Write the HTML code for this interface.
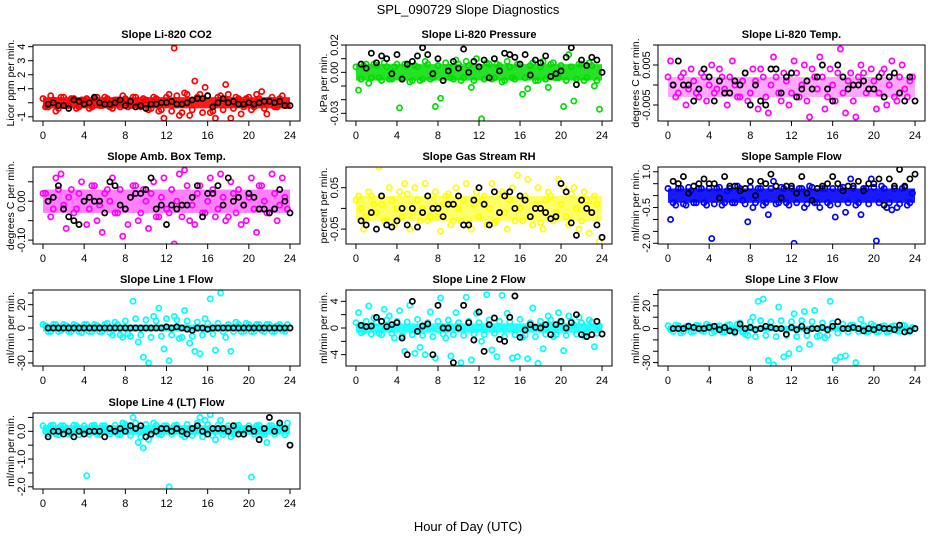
<!DOCTYPE html>
<html><head><meta charset="utf-8"><style>
body{margin:0;background:#fff;}
svg{display:block;font-family:"Liberation Sans",sans-serif;}
</style></head><body>
<svg id="chart" width="936" height="540" viewBox="0 0 936 540">
<text x="468" y="14" text-anchor="middle" font-size="13">SPL_090729  Slope Diagnostics</text>
<text x="468" y="531" text-anchor="middle" font-size="13">Hour of Day (UTC)</text>
</svg>
<script>
const titles=["Slope Li-820 CO2","Slope Li-820 Pressure","Slope Li-820 Temp.","Slope Amb. Box Temp.","Slope Gas Stream RH","Slope Sample Flow","Slope Line 1 Flow","Slope Line 2 Flow","Slope Line 3 Flow","Slope Line 4 (LT) Flow"];
const yTitles=["Licor ppm per min.","kPa per min.","degrees C per min.","degrees C per min.","percent per min.","ml/min per min.","ml/min per min.","ml/min per min.","ml/min per min.","ml/min per min."];
const colors=["#ff0000","#00dd00","#ff00ff","#ff00ff","#ffff00","#0000ff","#00ffff","#00ffff","#00ffff","#00ffff"];
const yRanges=[[-1.3,4.12],[-0.0356,0.02],[-0.009,0.01],[-0.11,0.088],[-0.086,0.1],[-2.03,1.2],[-32.6,32.6],[-5.7,5.7],[-33,34],[-2.08,0.66]];
const yTicks=[[-1,0,1,2,3,4],[-0.03,-0.02,-0.01,0,0.01,0.02],[-0.005,0,0.005,0.01],[-0.1,-0.05,0,0.05],[-0.05,0,0.05],[-2,-1.5,-1,-0.5,0,0.5,1],[-30,-20,-10,0,10,20,30],[-4,-2,0,2,4],[-30,-20,-10,0,10,20,30],[-2,-1.5,-1,-0.5,0,0.5]];
const yTickLabels=[["-1","","1","2","3","4"],["-0.03","","","0.00","","0.02"],["-0.005","","0.005",""],["-0.10","","0.00",""],["-0.05","","0.05"],["-2.0","","","-0.5","","","1.0"],["-30","","","0","","20",""],["-4","","0","","4"],["-30","","","0","","20",""],["-2.0","","-1.0","","0.0",""]];
const xTicks=[0,4,8,12,16,20,24];
const coreLo=[-0.4,-0.006,-0.003,-0.03,-0.03,-0.3,-3,-0.7,-2.5,-0.12];
const coreHi=[0.4,0.006,0.002,0.03,0.03,0.3,3,0.7,2.5,0.22];
const coreOpacity=[0.9,0.85,0.35,0.5,0.6,0.9,0.9,0.85,0.9,0.9];
const colHours=[];for(let i=0;i<48;i++)colHours.push(0.25+0.5*i);
const blkHours=[];for(let i=0;i<48;i++)blkHours.push(0.5+0.5*i);
const col2Hours=[];for(let i=0;i<48;i++)col2Hours.push(0.5*i);
const colored=[
[-0.3,0.5,-0.6,0.4,-0.2,0.3,-0.4,0.2,0.3,-0.3,0.4,-0.2,0.3,-0.4,0.2,0.5,-0.3,0.4,-0.2,0.3,-0.5,0.4,-0.6,-1.1,0.6,3.9,-0.9,0.7,-0.9,1.55,0.6,1.1,-0.7,-1.1,0.5,1.3,-1.1,0.4,-0.8,0.3,-0.5,0.6,0.8,-0.8,0.4,-0.3,0.5,-0.2],
[-0.013,0.005,-0.008,0.006,-0.004,0.007,-0.005,0.004,-0.026,0.006,-0.007,0.005,-0.006,0.008,-0.005,-0.025,-0.019,0.007,-0.004,0.009,-0.006,0.008,-0.011,0.01,-0.034,0.007,-0.005,0.006,-0.007,0.008,-0.004,0.006,-0.016,-0.012,0.007,-0.006,0.008,-0.011,0.007,-0.004,-0.025,0.013,-0.021,0.006,-0.006,0.007,-0.01,-0.027],
[0.006,-0.003,0.002,-0.005,0.004,-0.002,0.003,-0.004,0.005,-0.001,0.002,-0.005,0.006,-0.003,0.001,-0.004,0.004,-0.006,0.002,-0.007,0.007,-0.002,0.003,-0.005,0.006,-0.003,0.005,-0.008,0.002,0.007,-0.006,0.004,-0.004,0.009,-0.007,0.003,-0.008,0.005,-0.002,0.004,-0.006,0.003,-0.005,0.006,-0.004,0.005,-0.003,0.002],
[0.02,-0.04,0.06,0.07,-0.07,0.03,-0.02,0.05,-0.06,0.04,-0.05,-0.08,0.03,0.06,-0.03,-0.09,-0.06,0.04,-0.05,0.03,-0.07,0.05,-0.04,0.06,-0.03,-0.11,0.07,0.08,-0.05,-0.06,0.04,-0.03,0.06,-0.04,0.07,-0.05,0.05,-0.03,-0.06,-0.05,0.06,-0.08,0.04,-0.03,0.07,-0.05,0.06,-0.02],
[0.03,-0.05,0.04,0.01,0.1,-0.03,0.05,-0.04,0.04,0.06,-0.05,0.05,-0.03,0.06,-0.02,0.04,-0.055,0.03,-0.04,0.05,-0.03,0.06,-0.05,0.04,0.02,-0.04,0.06,-0.03,0.04,-0.05,0.05,0.08,-0.03,0.07,-0.04,0.05,-0.05,0.04,-0.03,0.07,0.05,-0.04,0.05,-0.05,0.04,-0.06,0.03,-0.08],
[-1.0,-0.4,0.3,-0.4,0.2,-0.3,0.3,-0.4,-1.8,0.3,-0.4,0.2,-0.3,0.4,-0.2,-1.1,-0.5,0.3,-0.4,-0.8,0.6,-0.3,0.3,-0.4,-2.0,0.3,-0.5,0.4,-0.3,-0.5,0.3,-0.4,-0.9,0.3,-0.7,0.7,-0.4,-0.8,0.3,0.7,-1.9,0.4,-0.5,-0.6,-0.5,0.3,-0.4,0.1],
[2,-3,3,-2,2,-3,2,-4,3,-3,2,-3,4,-6,3,-8,-5,23,-12,-25,-30,10,17,-18,-28,10,-9,15,-13,-20,-22,8,25,-19,30,-8,-20,5,-3,4,-3,3,-2,3,-3,2,-2,3],
[2.3,-0.5,3.3,1.5,-0.8,2.8,1.8,-1.5,2.6,-3.5,3.4,-3.8,-2.9,-4.0,2.4,-4.5,4.5,-1.5,-4.2,2.3,-5.2,4.6,-4.8,2.2,-2.0,5.0,-3.3,-4.3,4.9,2.2,-4.5,-4.3,-1.4,-4.6,3.0,-5.3,-3.1,1.8,-1.3,2.3,-3.4,1.8,0.5,1.6,-1.2,1.2,-2.8,0.3],
[-1,3,-4,2,-3,3,-2,4,-4,2,-3,3,-2,4,-3,-6,10,24,26,-28,-32,19,-25,-22,13,-18,15,-14,16,-6,-8,24,-28,-25,-24,3,-30,8,-3,4,-3,2,-3,2,-2,3,-2,1],
[0.0,0.2,-0.1,0.2,0.1,-0.1,0.2,0.0,-1.6,0.2,-0.1,0.2,0.0,0.1,-0.1,0.3,0.2,0.5,-0.4,-0.6,-0.3,0.3,-0.1,0.2,-2.0,0.2,0.1,-0.2,0.1,0.0,0.5,0.4,0.6,-0.3,0.4,0.1,-0.2,0.2,0.0,0.1,-1.65,0.2,-0.1,-0.4,0.2,0.0,0.1,0.3]
];
const colored2=[
[0.3,-0.3,0.2,-0.4,0.4,-0.2,0.3,-0.3,0.2,-0.4,0.3,-0.2,0.4,-0.3,0.2,-0.3,0.3,-0.2,0.4,-0.3,0.2,-0.4,0.3,-0.5,0.4,-0.6,0.5,-0.7,0.6,-0.5,0.4,-0.7,0.5,-0.6,0.4,-0.5,0.6,-0.4,0.3,-0.3,0.4,-0.3,0.3,-0.4,0.2,-0.3,0.3,-0.2],
[0.004,-0.005,0.006,-0.004,0.005,-0.006,0.004,-0.005,0.006,-0.004,0.005,-0.006,0.004,-0.005,0.006,-0.004,0.005,-0.006,0.004,-0.005,0.006,-0.004,0.005,-0.006,0.004,-0.005,0.006,-0.004,0.005,-0.006,0.004,-0.005,0.006,-0.004,0.005,-0.006,0.004,-0.005,0.006,-0.004,0.005,-0.006,0.004,-0.005,0.006,-0.004,0.005,-0.006],
[0.002,0.0,-0.002,0.003,-0.001,0.001,-0.003,0.002,0.0,-0.002,0.004,-0.001,0.002,0.0,-0.003,0.003,-0.002,0.001,0.004,-0.003,0.0,0.002,-0.004,0.001,-0.002,0.003,0.0,-0.004,0.004,-0.001,0.002,-0.003,0.0,0.003,-0.002,0.001,-0.004,0.002,0.003,-0.001,0.001,-0.002,0.004,0.0,-0.003,0.002,-0.001,0.001],
[0.02,0.0,-0.02,0.03,-0.01,0.01,-0.03,0.02,0.0,-0.02,0.04,-0.01,0.02,0.0,-0.03,0.03,-0.02,0.01,0.04,-0.03,0.0,0.02,-0.04,0.01,-0.02,0.03,0.0,-0.04,0.04,-0.01,0.02,-0.03,0.0,0.03,-0.02,0.01,-0.04,0.02,0.03,-0.01,0.01,-0.02,0.04,0.0,-0.03,0.02,-0.01,0.01],
[0.02,0.0,-0.02,0.03,-0.01,0.01,-0.03,0.02,0.0,-0.02,0.035,-0.01,0.02,0.0,-0.03,0.03,-0.02,0.01,0.035,-0.03,0.0,0.02,-0.035,0.01,-0.02,0.03,0.0,-0.035,0.035,-0.01,0.02,-0.03,0.0,0.03,-0.02,0.01,-0.035,0.02,0.03,-0.01,0.01,-0.02,0.035,0.0,-0.03,0.02,-0.01,0.01],
[0.3,-0.3,0.3,-0.35,0.35,-0.3,0.3,-0.3,0.3,-0.35,0.35,-0.3,0.3,-0.3,0.3,-0.35,0.35,-0.3,0.3,-0.3,0.3,-0.35,0.35,-0.3,0.3,-0.3,0.3,-0.35,0.35,-0.3,0.3,-0.3,0.3,-0.35,0.35,-0.3,0.3,-0.3,0.3,-0.35,0.35,-0.3,0.3,-0.3,0.3,-0.35,0.35,-0.3],
[3,-3,3,-3,3,-3,3,-3,3,-3,3,-3,3,-4,5,-6,6,-7,8,-6,7,-8,6,-7,8,-6,7,-8,6,-7,5,-6,4,-5,4,-3,3,-3,3,-3,3,-3,3,-3,3,-3,3,-3],
[0.8,-0.7,1.0,-0.9,0.8,-1.0,1.2,-0.8,1.0,-1.2,0.9,-1.0,1.3,-1.1,0.8,-1.3,1.0,-0.9,1.2,-1.0,0.8,-1.1,1.0,-0.9,0.8,-1.0,1.2,-0.8,1.0,-1.2,0.9,-1.0,1.3,-1.1,0.8,-1.3,1.0,-0.9,1.2,-1.0,0.8,-1.1,1.0,-0.9,0.8,-0.7,0.9,-0.8],
[2.5,-2.5,2.5,-2.5,2.5,-2.5,2.5,-2.5,2.5,-2.5,2.5,-3,3.5,-4,5,-5,6,-7,7,-6,6,-7,7,-6,6,-7,7,-6,6,-7,5,-6,5,-4,4,-3,3,-2.5,2.5,-2.5,2.5,-2.5,2.5,-2.5,2.5,-2.5,2.5,-2.5],
[0.2,-0.1,0.22,-0.12,0.2,-0.1,0.22,-0.12,0.2,-0.1,0.22,-0.12,0.2,-0.1,0.22,-0.12,0.25,-0.15,0.3,-0.2,0.25,-0.15,0.22,-0.12,0.2,-0.1,0.22,-0.12,0.25,-0.15,0.3,-0.2,0.25,-0.15,0.22,-0.12,0.2,-0.1,0.22,-0.12,0.2,-0.1,0.22,-0.12,0.2,-0.1,0.22,-0.12]
];
const black=[
[-0.1,0.0,-0.2,-0.2,-0.4,0.2,0.1,-0.1,0.0,0.4,0.0,-0.1,-0.1,0.0,0.2,-0.2,0.1,-0.3,-0.2,-0.4,-0.1,-0.1,0.0,0.0,0.1,-0.1,-0.1,0.0,0.2,0.3,0.3,0.5,-0.3,0.0,0.3,0.0,0.1,-0.1,-0.1,0.0,-0.1,0.0,0.1,0.1,0.0,0.1,-0.2,-0.2],
[0.006,0.003,0.014,0.007,0.012,0.01,-0.001,0.013,-0.005,0.006,0.008,0.012,0.018,0.013,-0.001,0.01,-0.006,0.001,0.008,0.003,0.017,0.0,0.008,0.004,0.009,-0.004,0.01,0.001,0.014,0.013,0.011,0.006,0.013,-0.002,0.009,0.007,0.012,-0.003,-0.001,0.001,0.011,0.018,-0.009,0.009,0.005,0.011,0.009,0.0],
[0.0,0.006,0.0,0.0,-0.004,-0.001,0.004,0.002,-0.004,0.001,-0.002,-0.002,0.001,0.0,0.003,-0.005,0.0,-0.004,-0.005,0.004,0.004,-0.002,0.002,0.003,-0.003,-0.001,0.001,-0.001,0.002,0.005,-0.001,-0.004,0.005,0.002,-0.001,0.0,0.0,0.001,-0.001,-0.001,0.002,-0.003,0.002,0.003,-0.002,-0.004,0.002,-0.004],
[0.0,0.01,0.04,-0.02,-0.04,-0.05,-0.06,0.0,0.01,0.0,0.0,-0.03,0.05,0.04,-0.01,-0.02,0.01,0.02,0.02,0.03,0.06,-0.02,-0.01,-0.06,-0.01,-0.02,-0.01,-0.01,0.01,0.04,-0.04,0.02,0.02,0.04,-0.01,0.06,0.0,0.01,-0.01,0.02,0.01,-0.02,-0.02,-0.03,-0.02,0.03,0.0,-0.03],
[-0.03,-0.04,-0.01,-0.05,0.03,-0.04,-0.045,-0.03,0.0,-0.04,0.0,-0.045,-0.01,0.03,0.0,0.0,-0.02,0.01,0.01,0.03,-0.04,-0.04,0.02,0.05,0.01,-0.04,0.04,-0.01,0.03,0.04,0.0,0.03,0.02,-0.02,0.0,0.0,-0.01,-0.025,-0.02,0.06,0.04,-0.035,-0.065,0.02,0.0,-0.01,-0.04,-0.07],
[0.6,0.5,0.8,0.1,0.4,0.5,0.7,0.5,0.5,-0.1,0.8,0.4,0.4,0.2,0.3,0.6,0.0,0.6,0.5,0.9,0.4,-0.1,0.4,0.4,0.1,0.8,0.1,-0.2,0.3,0.4,0.5,0.8,0.5,0.2,0.4,0.4,0.6,0.2,0.5,0.5,0.7,-0.4,0.7,0.4,1.1,0.4,0.7,0.9],
[0,0,0,0,0,0,0,0,0,0,0,0,0,0,0,0,0,0,0,0,0,0,0,1,0,1,0,-1,-2,0,0,-1,0,0,0,0,0,0,0,0,0,0,0,0,0,0,0,0],
[0.4,0.2,0.3,1.6,1.0,0.2,0.5,0.8,-1.5,-4.0,4.0,-0.5,0.3,0.6,-4.0,3.4,0.0,0.0,-5.2,0.0,3.4,0.8,-1.8,2.4,-3.5,0.5,1.5,-1.7,-2.0,1.6,4.8,-1.4,-0.3,0.5,0.1,0.0,0.5,-1.0,0.5,1.0,0.0,0.8,2.0,-1.0,-1.3,-1.0,1.0,-0.9],
[0,0,0,2,1,0,0,1,2,-1,1,-2,-3,4,0,1,-1,0,2,1,0,0,-5,1,-1,2,-2,0,0,1,-1,2,6,0,0,1,0,-2,0,-1,1,0,0,-1,3,-3,-2,0],
[-0.2,0.0,0.0,-0.1,0.0,-0.2,0.0,-0.1,0.0,0.0,0.0,-0.2,0.1,0.0,0.1,0.0,0.2,0.1,0.2,-0.2,-0.1,0.0,0.1,0.1,0.0,0.1,0.0,-0.1,0.1,0.2,0.0,-0.1,0.1,0.1,0.1,0.0,0.2,-0.1,-0.1,0.1,0.0,-0.3,0.1,0.5,0.0,0.3,0.1,-0.5]
];
const NS="http://www.w3.org/2000/svg";
const svg=document.getElementById('chart');
function mk(tag,attrs,parent){const e=document.createElementNS(NS,tag);for(const k in attrs)e.setAttribute(k,attrs[k]);(parent||svg).appendChild(e);return e;}
const colLeft=[33,346,658],colRight=[300,612,925];
const rowTop=[45,167,290,413],rowBot=[121,244,366,489];
const XMIN=-0.97,XMAX=24.97;
for(let p=0;p<10;p++){
  const c=p%3,r=Math.floor(p/3);
  const L=colLeft[c],R=colRight[c],T=rowTop[r],B=rowBot[r];
  const [y0,y1]=yRanges[p];
  const sx=v=>L+(v-XMIN)/(XMAX-XMIN)*(R-L);
  const sy=v=>B-(v-y0)/(y1-y0)*(B-T);
  const g=mk('g',{});
  
  
  const t=mk('text',{x:(L+R)/2,y:T-7,'text-anchor':'middle','font-size':11,'font-weight':'bold'},g);
  t.textContent=titles[p];
  
  
  const yt=mk('text',{x:0,y:0,transform:`translate(${L-19},${(T+B)/2}) rotate(-90)`,'text-anchor':'middle','font-size':10.5},g);
  yt.textContent=yTitles[p];
  
  
  const clip='clip'+p;
  const cp=mk('clipPath',{id:clip},g);mk('rect',{x:L,y:T,width:R-L,height:B-T},cp);
  const pg=mk('g',{'clip-path':`url(#${clip})`},g);
  const core=mk('rect',{x:sx(0),y:sy(coreHi[p]),width:sx(24)-sx(0),height:sy(coreLo[p])-sy(coreHi[p]),fill:colors[p],opacity:coreOpacity[p]},pg);
  
  
  colored2[p].forEach((v,i)=>{
    const e=mk('circle',{cx:sx(col2Hours[i]),cy:sy(v),r:2.6,fill:'none',stroke:colors[p],'stroke-width':1.7},pg);
    
    
  });
  colored[p].forEach((v,i)=>{
    const e=mk('circle',{cx:sx(colHours[i]),cy:sy(v),r:2.6,fill:'none',stroke:colors[p],'stroke-width':1.7},pg);
    
    
  });
  black[p].forEach((v,i)=>{
    const e=mk('circle',{cx:sx(blkHours[i]),cy:sy(v),r:2.6,fill:'none',stroke:'#000','stroke-width':1.7},pg);
    
    
  });
  mk('rect',{x:L,y:T,width:R-L,height:B-T,fill:'none',stroke:'#000','stroke-width':1},g);
  xTicks.forEach(v=>{
    mk('line',{x1:sx(v),x2:sx(v),y1:B,y2:B+5,stroke:'#000'},g);
    const tl=mk('text',{x:sx(v),y:B+18,'text-anchor':'middle','font-size':11},g);
    tl.textContent=v;
    
    
  });
  mk('line',{x1:sx(0),x2:sx(24),y1:B,y2:B,stroke:'#000'},g);
  const yt0=yTicks[p];
  yt0.forEach((v,i)=>{
    mk('line',{x1:L,x2:L-5,y1:sy(v),y2:sy(v),stroke:'#000'},g);
    const lab=yTickLabels[p][i];
    if(lab){
      const tl=mk('text',{x:0,y:0,transform:`translate(${L-8},${sy(v)}) rotate(-90)`,'text-anchor':'middle','font-size':11},g);
      tl.textContent=lab;
      
      
    }
  });
  mk('line',{x1:L,x2:L,y1:sy(yt0[0]),y2:sy(yt0[yt0.length-1]),stroke:'#000'},g);
}
</script>
</body></html>
